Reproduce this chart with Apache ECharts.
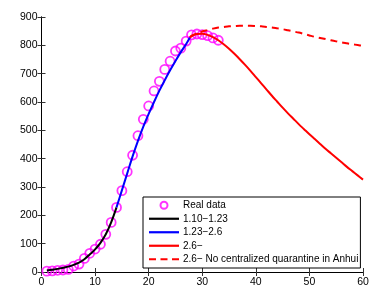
<!DOCTYPE html>
<html>
<head>
<meta charset="utf-8">
<script src="https://cdn.jsdelivr.net/npm/echarts@6/dist/echarts.min.js"></script>
<style>
html,body{margin:0;padding:0;background:#fff;}
#c{width:386px;height:295px;}
</style>
</head>
<body>
<div id="c"></div>
<script>
// Real data (day index, cumulative cases)
var realDays = [1,2,3,4,5,6,7,8,9,10,11,12,13,14,15,16,17,18,19,20,21,22,23,24,25,26,27,28,29,30,31,32,33];
var realVals = [3,4,6,7,9,21,28,48,66,81,98,133,175,228,287,354,412,481,539,586,639,673,715,744,780,790,815,837,840,838,834,826,818];

// Fitted curve 1.10-1.23
var blackDays = [1,2,3,4,5,6,7,8,9,10,11,12,13,14];
var blackVals = [5,8,11,15,19,25,33,45,62,80,103,133,175,228];

// Fitted curve 1.23-2.6
var blueDays = [14,15,16,17,18,19,20,21,22,23,24,25,26,27,27.7];
var blueVals = [228,288,348,408,463,513,558,600,640,677,712,745,776,805,828];

// Fitted curve 2.6-
var redDays = [27.7,28,29,30,31,32,33,34,35,36,37,38,39,40,41,42,43,44,45,46,47,48,49,50,51,52,53,54,55,56,57,58,59,60];
var redVals = [828,834,840,841,837,829,818,804,788,770,751,731,710,688,666,644,622,601,580,560,541,522,504,486,469,452,435,419,403,387,371,356,341,326];

// 2.6- No centralized quarantine in Anhui
var dashDays = [27.7,29,30,31,32,33,34,35,36,37,38,39,40,41,42,43,44,45,46,47,48,49,50,51,52,53,54,55,56,57,58,59,60];
var dashVals = [828,843,849,854,859,863,865,867,868,869,869,869,868,867,865,863,860,857,853,849,845,840,835,830,826,822,818,814,810,807,804,801,798];

var xTicks = {min:0, max:60, interval:10};
var yTicks = {min:0, max:900, interval:100};

var names = ['Real data','1.10\u22121.23','1.23\u22122.6','2.6\u2212','2.6\u2212 No centralized quarantine in Anhui'];

function pairs(d, v){ return d.map(function(x,i){ return [x, v[i]]; }); }

var font = 'Liberation Sans, Arial, sans-serif';
var solidIcon = 'path://M0,0h30v2.2h-30z';
var dashIcon = 'path://M0,0h7v2.2h-7z M11.5,0h7v2.2h-7z M23,0h7v2.2h-7z';
var chart = echarts.init(document.getElementById('c'), null, {renderer:'canvas'});
var axisCommon = {
  axisLine:{show:true, lineStyle:{color:'#000', width:1}},
  axisTick:{show:true, inside:true, length:4, lineStyle:{color:'#333'}},
  splitLine:{show:false}
};
chart.setOption({
  animation:false,
  backgroundColor:'#fff',
  grid:{left:41.5, right:23, top:17, bottom:23, containLabel:false},
  xAxis:[
    Object.assign({type:'value', position:'bottom', min:xTicks.min, max:xTicks.max, interval:xTicks.interval}, axisCommon, {axisLabel:{color:'#000', fontSize:10.5, fontFamily:font, margin:5}}),
    Object.assign({type:'value', position:'top', min:xTicks.min, max:xTicks.max, interval:xTicks.interval}, axisCommon, {axisLabel:{show:false}})
  ],
  yAxis:[
    Object.assign({type:'value', position:'left', min:yTicks.min, max:yTicks.max, interval:yTicks.interval}, axisCommon, {axisLabel:{color:'#000', fontSize:10.5, fontFamily:font, margin:4}}),
    Object.assign({type:'value', position:'right', min:yTicks.min, max:yTicks.max, interval:yTicks.interval}, axisCommon, {axisLabel:{show:false}})
  ],
  legend:{
    orient:'vertical',
    left:143, top:197,
    data:[
      {name:names[0], icon:'circle'},
      {name:names[1], icon:solidIcon},
      {name:names[2], icon:solidIcon},
      {name:names[3], icon:solidIcon},
      {name:names[4], icon:dashIcon}
    ],
    itemWidth:30, itemHeight:7, itemGap:2,
    padding:[2.5,2,3,6],
    borderColor:'#000', borderWidth:1, backgroundColor:'#fff',
    textStyle:{color:'#000', fontSize:10, fontFamily:font, lineHeight:11.5, padding:[0,0,0,-1]}
  },
  series:[
    {name:names[0], type:'scatter', data:pairs(realDays, realVals), symbol:'circle', symbolSize:9,
     itemStyle:{color:'rgba(255,255,255,0)', borderColor:'#ff00ff', borderWidth:1.8}},
    {name:names[1], type:'line', data:pairs(blackDays, blackVals), symbol:'none', smooth:0.3,
     lineStyle:{color:'#000', width:2}, itemStyle:{color:'#000'}},
    {name:names[2], type:'line', data:pairs(blueDays, blueVals), symbol:'none', smooth:0.3,
     lineStyle:{color:'#0000ff', width:2}, itemStyle:{color:'#0000ff'}},
    {name:names[3], type:'line', data:pairs(redDays, redVals), symbol:'none', smooth:0.3,
     lineStyle:{color:'#ff0000', width:2}, itemStyle:{color:'#ff0000'}},
    {name:names[4], type:'line', data:pairs(dashDays, dashVals), symbol:'none', smooth:0.3,
     lineStyle:{color:'#ff0000', width:2, type:[7,5]}, itemStyle:{color:'#ff0000'}}
  ]
});
</script>
</body>
</html>
